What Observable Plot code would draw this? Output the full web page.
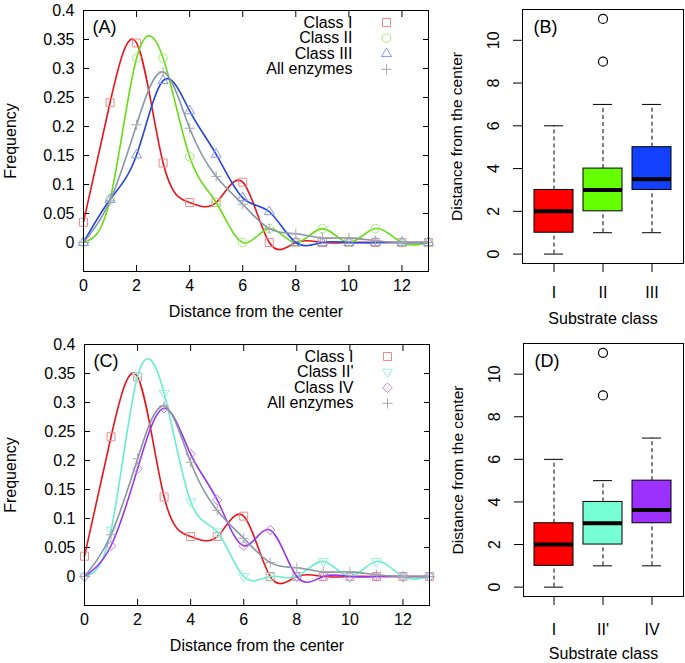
<!DOCTYPE html>
<html><head><meta charset="utf-8">
<script src="https://cdn.jsdelivr.net/npm/d3@7"></script>
<script src="https://cdn.jsdelivr.net/npm/@observablehq/plot@0.6"></script>
<style>
body{margin:0;background:#fff;}
#wrap{position:relative;width:685px;height:663px;font-family:"Liberation Sans",Arial,sans-serif;}
#wrap svg{position:absolute;}
</style></head><body><div id="wrap"></div>
<script>
// ---------- data ----------
const distance = [0,1,2,3,4,5,6,7,8,9,10,11,12,13];
const classI   = [0.035,0.241,0.344,0.137,0.069,0.069,0.104,0,0,0,0,0,0,0];
const classII  = [0,0.074,0.318,0.318,0.148,0.069,0,0.024,0,0.024,0,0.024,0,0];
const classIII = [0,0.074,0.151,0.279,0.227,0.152,0.077,0.053,0,0,0,0,0,0];
const classIIp = [0,0.080,0.345,0.316,0.129,0.077,0,0,0,0.026,0,0.026,0,0];
const classIV  = [0,0.053,0.186,0.290,0.211,0.132,0.053,0.080,0,0,0,0,0,0];
const allEnz   = [0,0.072,0.203,0.294,0.197,0.114,0.066,0.024,0.015,0.008,0.008,0.003,0,0];
const freqTicks = [0,0.05,0.1,0.15,0.2,0.25,0.3,0.35,0.4];
const distTicks = [0,2,4,6,8,10,12];

const boxClassesB = ["I","II","III"];
const boxClassesD = ["I","II'","IV"];
const lowB  = [0,1,1],  q1B = [1,2,3], medB = [2,3,3.5],   q3B = [3,4,5], highB = [6,7,7];
const lowD  = [0,1,1],  q1D = [1,2,3], medD = [2,3,3.625], q3D = [3,4,5], highD = [6,5,7];
const outClassB = ["II","II"], outValueB = [9,11];
const outClassD = ["II'","II'"], outValueD = [9,11];
const boxTicks = [0,2,4,6,8,10];

// ---------- styles ----------
const FONT = "Liberation Sans, Arial, sans-serif";
const seriesA = [
  {name:"Class I",     values:classI,   line:"#e8141c", marker:"#f08a8a", symbol:"square",   r:4.5, rotate:0},
  {name:"Class II",    values:classII,  line:"#66dd11", marker:"#a8ea7a", symbol:"circle",   r:4.3, rotate:0},
  {name:"Class III",   values:classIII, line:"#2244dd", marker:"#8899ee", symbol:"triangle2",r:4.8, rotate:0},
  {name:"All enzymes", values:allEnz,   line:"#8896a6", marker:"#aaaaaa", symbol:"plus",     r:3.4, rotate:0}
];
const seriesC = [
  {name:"Class I",     values:classI,   line:"#e8141c", marker:"#f08a8a", symbol:"square",   r:4.5, rotate:0},
  {name:"Class II'",   values:classIIp, line:"#66eecc", marker:"#99f2dd", symbol:"triangle2",r:4.8, rotate:180},
  {name:"Class IV",    values:classIV,  line:"#9933ee", marker:"#bb88ee", symbol:"diamond2", r:4.3, rotate:0},
  {name:"All enzymes", values:allEnz,   line:"#8896a6", marker:"#aaaaaa", symbol:"plus",     r:3.4, rotate:0}
];
const boxColorsB = ["#ff0000","#66ff00","#1440ff"];
const boxColorsD = ["#ff0000","#77ffd4","#9b30ff"];

const fmt = d => String(+d.toFixed(2));
const blank = () => "";
const mid = {textAnchor:"middle", lineAnchor:"middle"};

function curvePanel({series, tag, top, height, mt, mb, ml, mr, legendDy}) {
  const marks = [
    Plot.axisX(distTicks, {anchor:"bottom", tickSize:0, tickPadding:8, fontSize:16, label:null}),
    // inward (gnuplot-style) ticks, mirrored on all four sides
    Plot.axisX(distTicks, {anchor:"bottom", tickSize:6, dy:-6, tickFormat:blank, label:null}),
    Plot.axisX(distTicks, {anchor:"top", tickSize:6, dy:6, tickFormat:blank, label:null}),
    Plot.axisY(freqTicks, {anchor:"left", tickSize:0, tickPadding:9, tickFormat:fmt, fontSize:16, label:null}),
    Plot.axisY(freqTicks, {anchor:"left", tickSize:6, dx:6, tickFormat:blank, label:null}),
    Plot.axisY(freqTicks, {anchor:"right", tickSize:6, dx:-6, tickFormat:blank, label:null})
  ];
  series.forEach((s, k) => {
    const rows = distance.map((d, i) => ({x:d, y:s.values[i]}));
    marks.push(Plot.line(rows, {x:"x", y:"y", stroke:s.line, strokeWidth:1.6, curve:"natural"}));
    marks.push(Plot.dot(rows, {x:"x", y:"y", stroke:s.marker, symbol:s.symbol, r:s.r, rotate:s.rotate, strokeWidth:1}));
    marks.push(Plot.text([s.name], {text:d=>d, frameAnchor:"top-right", dx:-76, dy:legendDy + k*15.6, textAnchor:"end", lineAnchor:"middle", fontSize:16}));
    marks.push(Plot.dot([s.name], {frameAnchor:"top-right", dx:-42, dy:legendDy + k*15.6, stroke:s.marker, symbol:s.symbol, r:s.r, rotate:s.rotate, strokeWidth:1}));
  });
  marks.push(
    Plot.frame({stroke:"#000"}),
    Plot.text([tag], {text:d=>d, frameAnchor:"top-left", dx:9, dy:17, textAnchor:"start", lineAnchor:"middle", fontSize:18}),
    Plot.text(["Frequency"], {text:d=>d, frameAnchor:"left", dx:-ml+10, rotate:-90, fontSize:16, ...mid}),
    Plot.text(["Distance from the center"], {text:d=>d, frameAnchor:"bottom", dy:40, fontSize:16, ...mid})
  );
  const svg = Plot.plot({
    width:440, height, marginTop:mt, marginBottom:mb, marginLeft:ml, marginRight:mr,
    style:{fontFamily:FONT, fontSize:"16px", color:"#000", background:"transparent", overflow:"visible"},
    x:{domain:[0,13]}, y:{domain:[-0.05,0.4]},
    marks
  });
  svg.style.left = "0px"; svg.style.top = top + "px";
  return svg;
}

function boxPanel({classes, low, q1, med, q3, high, outCls, outVal, colors, tag, top, height, mt, mb, ml, mr, tickDy, labelDy}) {
  const rows = classes.map((c, i) => ({cls:c, low:low[i], q1:q1[i], med:med[i], q3:q3[i], high:high[i]}));
  const outs = outCls.map((c, i) => ({cls:c, v:outVal[i]}));
  const svg = Plot.plot({
    width:245, height, marginTop:mt, marginBottom:mb, marginLeft:ml, marginRight:mr,
    style:{fontFamily:FONT, fontSize:"16px", color:"#000", background:"transparent", overflow:"visible"},
    x:{type:"band", domain:classes, paddingInner:0.2, paddingOuter:0.22},
    y:{domain:[-0.44,11.44]},
    color:{domain:classes, range:colors},
    marks:[
      Plot.ruleX(rows, {x:"cls", y1:"low", y2:"q1", strokeDasharray:"4,3", stroke:"#000"}),
      Plot.ruleX(rows, {x:"cls", y1:"q3", y2:"high", strokeDasharray:"4,3", stroke:"#000"}),
      Plot.tickY(rows, {x:"cls", y:"low", insetLeft:10, insetRight:10, stroke:"#000"}),
      Plot.tickY(rows, {x:"cls", y:"high", insetLeft:10, insetRight:10, stroke:"#000"}),
      Plot.barY(rows, {x:"cls", y1:"q1", y2:"q3", fill:"cls", stroke:"#000", strokeWidth:1}),
      Plot.tickY(rows, {x:"cls", y:"med", stroke:"#000", strokeWidth:4}),
      Plot.dot(outs, {x:"cls", y:"v", r:4.5, stroke:"#000", strokeWidth:1.2}),
      Plot.frame({stroke:"#000"}),
      Plot.axisY(boxTicks, {anchor:"left", tickSize:9, tickFormat:blank, label:null}),
      Plot.text(boxTicks, {y:d=>d, text:d=>String(d), frameAnchor:"left", dx:-29, rotate:-90, fontSize:16, ...mid}),
      Plot.axisX({anchor:"bottom", tickSize:9, tickFormat:blank, label:null}),
      Plot.text(classes, {x:d=>d, text:d=>d, frameAnchor:"bottom", dy:tickDy, fontSize:16, ...mid}),
      Plot.text([tag], {text:d=>d, frameAnchor:"top-left", dx:11, dy:18, textAnchor:"start", lineAnchor:"middle", fontSize:18}),
      Plot.text(["Distance from the center"], {text:d=>d, frameAnchor:"left", dx:-65, rotate:-90, fontSize:15.5, ...mid}),
      Plot.text(["Substrate class"], {text:d=>d, frameAnchor:"bottom", dy:labelDy, fontSize:16, ...mid})
    ]
  });
  svg.style.left = "440px"; svg.style.top = top + "px";
  return svg;
}

const wrap = document.getElementById("wrap");
wrap.append(
  curvePanel({series:seriesA, tag:"(A)", top:0, height:330, mt:10, mb:59, ml:83, mr:12, legendDy:12}),
  curvePanel({series:seriesC, tag:"(C)", top:330, height:333, mt:14, mb:58, ml:84, mr:11, legendDy:12}),
  boxPanel({classes:boxClassesB, low:lowB, q1:q1B, med:medB, q3:q3B, high:highB, outCls:outClassB, outVal:outValueB,
            colors:boxColorsB, tag:"(B)", top:0, height:330, mt:9, mb:67, ml:82, mr:2, tickDy:29, labelDy:55}),
  boxPanel({classes:boxClassesD, low:lowD, q1:q1D, med:medD, q3:q3D, high:highD, outCls:outClassD, outVal:outValueD,
            colors:boxColorsD, tag:"(D)", top:330, height:333, mt:13, mb:67, ml:83, mr:2, tickDy:33, labelDy:57})
);
</script></body></html>
